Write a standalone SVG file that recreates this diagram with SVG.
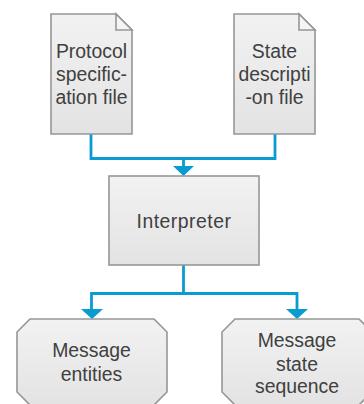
<svg xmlns="http://www.w3.org/2000/svg" width="364" height="404" viewBox="0 0 364 404">
<defs>
<linearGradient id="g" x1="0" y1="0" x2="0" y2="1"><stop offset="0" stop-color="#f2f2f2"/><stop offset="1" stop-color="#e3e3e3"/></linearGradient>
</defs>
<style>
.s{fill:url(#g);stroke:#969696;stroke-width:1.6}
.f{fill:#f5f5f5;stroke:#969696;stroke-width:1.6}
.c{fill:none;stroke:#0a9bd0;stroke-width:2.8}
.h{fill:#0a9bd0}
text{font-family:"Liberation Sans",Arial,sans-serif;font-size:19.4px;fill:#404040;text-anchor:middle}
</style>
<rect width="364" height="404" fill="#fff"/>
<g id="connectors">
<path class="c" d="M91 134V158.500H275V134"/>
<path class="c" d="M183.500 158.500V167"/>
<path class="h" d="M173 166H194L183.500 176Z"/>
<path class="c" d="M183.500 265V293.500"/>
<path class="c" d="M91.500 309V293.500H297V309"/>
<path class="h" d="M81 309H103L92 319Z"/>
<path class="h" d="M286 309H308L297 319Z"/>
</g>
<g id="protocol-file">
<path class="s" d="M51 14H116L132 30V134H51Z"/>
<path class="f" d="M116 14V30H132Z"/>
<text x="91.500" y="58">Protocol</text><text x="91.500" y="81">specific-</text><text x="91.500" y="104">ation file</text>
</g>
<g id="state-file">
<path class="s" d="M234 14H299L315 30V134H234Z"/>
<path class="f" d="M299 14V30H315Z"/>
<text x="274.500" y="58">State</text><text x="274.500" y="81">descripti</text><text x="274.500" y="104">-on file</text>
</g>
<g id="interpreter">
<rect class="s" x="109" y="176" width="150" height="89"/>
<text x="184" y="228" letter-spacing="0.5">Interpreter</text>
</g>
<g id="message-entities">
<path class="s" d="M30 319H154L167 332V392L154 405H30L17 392V332Z"/>
<text x="91.500" y="357">Message</text><text x="91.500" y="381">entities</text>
</g>
<g id="message-state">
<path class="s" d="M235 319H359L372 332V392L359 405H235L222 392V332Z"/>
<text x="297" y="347">Message</text><text x="297" y="371">state</text><text x="297" y="393">sequence</text>
</g>
</svg>
